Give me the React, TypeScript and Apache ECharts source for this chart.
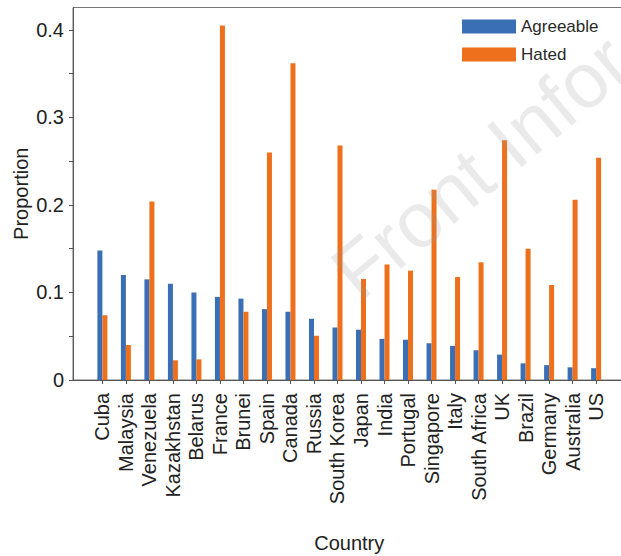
import React, { useEffect, useRef } from "react";
import * as echarts from "echarts";

const countries = ["Cuba", "Malaysia", "Venezuela", "Kazakhstan", "Belarus", "France", "Brunei", "Spain", "Canada", "Russia", "South Korea", "Japan", "India", "Portugal", "Singapore", "Italy", "South Africa", "UK", "Brazil", "Germany", "Australia", "US"];
const agreeable = [0.148, 0.120, 0.115, 0.110, 0.100, 0.095, 0.093, 0.081, 0.078, 0.070, 0.060, 0.0575, 0.047, 0.046, 0.042, 0.039, 0.034, 0.029, 0.019, 0.017, 0.0145, 0.0135];
const hated = [0.074, 0.040, 0.204, 0.0225, 0.0236, 0.405, 0.078, 0.260, 0.362, 0.0506, 0.268, 0.1154, 0.132, 0.125, 0.2175, 0.1177, 0.1345, 0.274, 0.150, 0.1086, 0.206, 0.254];
const yLabelValues = [0, 0.1, 0.2, 0.3, 0.4];
const yTickValues = [0, 0.05, 0.1, 0.15, 0.2, 0.25, 0.3, 0.35, 0.4];

const FONT = "'Liberation Sans', Arial, sans-serif";

export default function App() {
  const ref = useRef<HTMLDivElement>(null);
  useEffect(() => {
    if (!ref.current) return;
    const chart = echarts.init(ref.current, null, { renderer: "svg" });
    const idx = countries.map((_, i) => i);
    chart.setOption({
      animation: false,
      textStyle: { fontFamily: FONT },
      grid: {
        left: 73,
        top: 7.5,
        width: 552.5,
        height: 372.5,
        outerBoundsMode: "none",
        containLabel: false,
        show: true,
        borderColor: "#777",
        borderWidth: 1,
        backgroundColor: "transparent",
      },
      legend: {
        orient: "vertical",
        left: 462,
        top: 18,
        padding: 0,
        itemWidth: 54,
        itemHeight: 14,
        itemGap: 11,
        icon: "rect",
        textStyle: { fontSize: 17, color: "#2a2a2a", fontFamily: FONT },
        data: ["Agreeable", "Hated"],
      },
      xAxis: {
        type: "value",
        min: -1.25,
        max: 22.25,
        name: "Country",
        nameLocation: "middle",
        nameGap: 153,
        nameTextStyle: { fontSize: 20, color: "#222", fontFamily: FONT },
        axisLine: { show: true, onZero: false, lineStyle: { color: "#555" } },
        axisTick: { show: true, length: 4, customValues: idx, lineStyle: { color: "#555" } },
        axisLabel: {
          customValues: idx,
          rotate: 90,
          margin: 13,
          fontSize: 20,
          color: "#222",
          fontFamily: FONT,
          formatter: (v: number) => countries[Math.round(v)] ?? "",
        },
        splitLine: { show: false },
      },
      yAxis: {
        type: "value",
        min: 0,
        max: 0.4257,
        name: "Proportion",
        nameLocation: "middle",
        nameGap: 42,
        nameMoveOverlap: false,
        nameTextStyle: { fontSize: 20, color: "#222", fontFamily: FONT },
        axisLine: { show: true, onZero: false, lineStyle: { color: "#555" } },
        axisTick: { show: true, length: 4, customValues: yTickValues, lineStyle: { color: "#555" } },
        axisLabel: {
          customValues: yLabelValues,
          margin: 9,
          fontSize: 20,
          color: "#222",
          fontFamily: FONT,
          formatter: (v: number) => (v === 0 ? "0" : v.toFixed(1)),
        },
        splitLine: { show: false },
      },
      graphic: [
        {
          type: "text",
          x: 368,
          y: 312,
          rotation: (40 * Math.PI) / 180,
          z: 100,
          silent: true,
          style: {
            text: "Front Infor",
            fontSize: 78,
            fontFamily: FONT,
            fill: "rgba(150,150,150,0.2)",
            textVerticalAlign: "bottom",
          },
        },
      ],
      series: [
        {
          name: "Agreeable",
          type: "bar",
          barWidth: 5,
          barGap: "0%",
          itemStyle: { color: "#3a6fb6" },
          data: agreeable.map((v, i) => [i, v]),
        },
        {
          name: "Hated",
          type: "bar",
          barWidth: 5,
          barGap: "0%",
          itemStyle: { color: "#ee701c" },
          data: hated.map((v, i) => [i, v]),
        },
      ],
    });
    return () => chart.dispose();
  }, []);
  return (
    <div
      ref={ref}
      style={{ position: "absolute", left: 0, top: 0, width: 621, height: 556 }}
    />
  );
}
